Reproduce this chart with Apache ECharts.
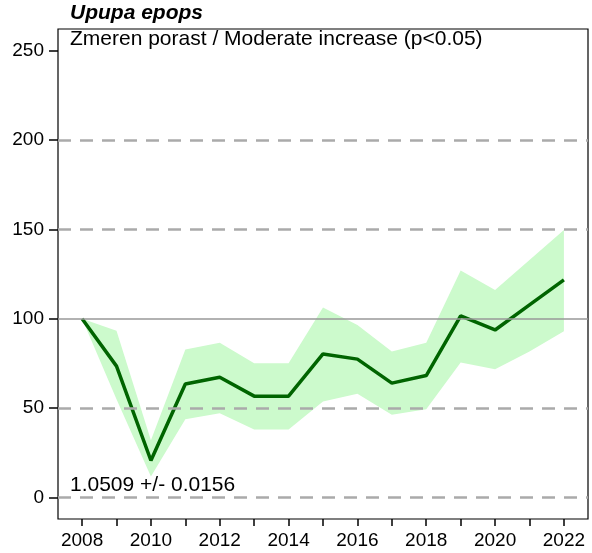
<!DOCTYPE html>
<html>
<head>
<meta charset="utf-8">
<script src="https://cdn.jsdelivr.net/npm/echarts@6/dist/echarts.min.js"></script>
<style>html,body{margin:0;padding:0;background:#fff}#chart{width:592px;height:553px}</style>
</head>
<body>
<div id="chart"></div>
<script>
const years = [2008,2009,2010,2011,2012,2013,2014,2015,2016,2017,2018,2019,2020,2021,2022];
const index = [100,73.5,20.7,63.5,67.3,56.7,56.7,80.3,77.4,64,68.2,101.6,93.7,107.7,121.7];
const upper = [100,93.3,32,82.8,86.6,75.1,75.1,106.2,96.5,81.6,86.6,126.9,116.1,132.8,149.6];
const lower = [100,55,11.8,43.8,47.2,38.1,38.1,53.7,58,46.3,49.4,75.5,71.8,81.6,93];
const xTickYears = [2008,2009,2010,2011,2012,2013,2014,2015,2016,2017,2018,2019,2020,2021,2022];
const xLabelYears = [2008,2010,2012,2014,2016,2018,2020,2022];
const yTicks = [0,50,100,150,200,250];
const dashedLines = [0,50,150,200];
const solidLines = [100];
const speciesName = 'Upupa epops';
const trendText = 'Zmeren porast / Moderate increase (p<0.05)';
const slopeText = '1.0509 +/- 0.0156';

const FONT = 'Liberation Sans, Arial, sans-serif';
const chart = echarts.init(document.getElementById('chart'), null, {renderer:'canvas'});
const pair = (a) => years.map((y,i)=>[y,a[i]]);
const bandData = years.map((y,i)=>[y,lower[i],upper[i]]);
const option = {
  animation:false,
  backgroundColor:'#fff',
  grid:{left:58,right:4,top:29,bottom:34,show:true,borderColor:'#000',borderWidth:1.2,backgroundColor:'transparent'},
  xAxis:{type:'value',min:2007.3,max:2022.7,
    axisLine:{show:false,onZero:false},
    axisTick:{show:true,inside:false,length:7,lineStyle:{color:'#000',width:1.5},customValues:xTickYears},
    axisLabel:{customValues:xLabelYears,formatter:(v)=>String(v),color:'#000',fontSize:19,fontFamily:FONT,margin:12},
    splitLine:{show:false}},
  yAxis:{type:'value',min:-12,max:262,
    axisLine:{show:false,onZero:false},
    axisTick:{show:true,inside:false,length:9,lineStyle:{color:'#000',width:1.5},customValues:yTicks},
    axisLabel:{customValues:yTicks,color:'#000',fontSize:19,fontFamily:FONT,margin:14},
    splitLine:{show:false}},
  series:[
    {name:'band',type:'custom',data:bandData,z:2,silent:true,
      encode:{x:0,y:[1,2]},
      renderItem:function(params,api){
        if(params.dataIndex!==0) return null;
        const up=[],lo=[];
        for(let i=0;i<bandData.length;i++){
          up.push(api.coord([bandData[i][0],bandData[i][2]]));
          lo.push(api.coord([bandData[i][0],bandData[i][1]]));
        }
        const pts=up.concat(lo.reverse());
        return {type:'polygon',shape:{points:pts},style:{fill:'#ccfacc',stroke:null}};
      }},
    {name:'grid',type:'line',data:[],z:3,silent:true,
      markLine:{silent:true,symbol:'none',label:{show:false},
        data:[
          ...dashedLines.map(v=>({yAxis:v,lineStyle:{color:'#aaaaaa',width:2.5,type:[13,9]}})),
          ...solidLines.map(v=>({yAxis:v,lineStyle:{color:'#999999',width:1.6,type:'solid'}}))
        ]}},
    {name:'index',type:'line',data:pair(index),symbol:'none',lineStyle:{color:'#006400',width:3.5},z:4}
  ],
  graphic:[
    {type:'text',left:70,top:3,style:{text:speciesName,font:'italic bold 21px '+FONT,fill:'#000'}},
    {type:'text',left:70,top:29,style:{text:trendText,font:'21px '+FONT,fill:'#000'}},
    {type:'text',left:70,top:475,style:{text:slopeText,font:'21px '+FONT,fill:'#000'}}
  ]
};
chart.setOption(option);
</script>
</body>
</html>
